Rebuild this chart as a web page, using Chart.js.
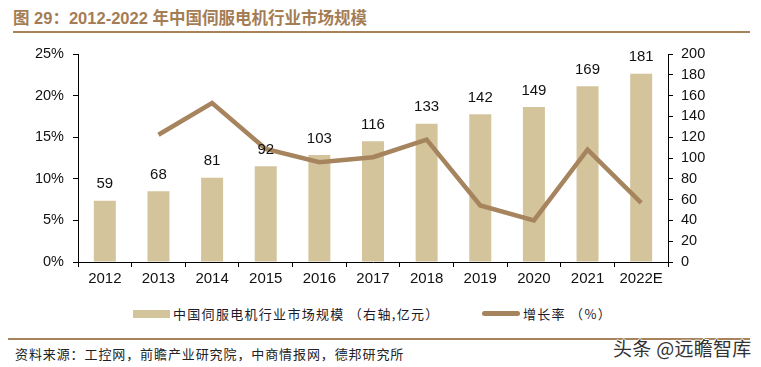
<!DOCTYPE html>
<html>
<head>
<meta charset="utf-8">
<script src="https://cdn.jsdelivr.net/npm/chart.js@4.4.1/dist/chart.umd.min.js"></script>
<style>
  html, body { margin: 0; padding: 0; background: #fff; }
  #wrap { position: relative; width: 761px; height: 367px; overflow: hidden; }
  #title { position: absolute; left: 13px; top: 5px; font: bold 16.5px "Liberation Sans", "Noto Sans CJK SC", sans-serif; color: #a47d55; white-space: nowrap; }
  .rule { position: absolute; height: 2px; background: #a8825a; }
  #c { position: absolute; left: 0; top: 40px; }
  .lg { position: absolute; font: 13px "Noto Sans CJK SC", sans-serif; color: #1a1a2a; letter-spacing: 1.3px; white-space: nowrap; line-height: 16px; }
  .sw { position: absolute; }
  #src { position: absolute; left: 15px; top: 344px; font: 13px "Noto Sans CJK SC", sans-serif; color: #222; letter-spacing: 0.9px; white-space: nowrap; }
  #wm { position: absolute; left: 613px; top: 334px; font: 19px "Noto Sans CJK SC", sans-serif; color: #333; white-space: nowrap; letter-spacing: 0.3px;
        text-shadow: 1px 0 #fff, -1px 0 #fff, 0 1px #fff, 0 -1px #fff; }
</style>
</head>
<body>
<div id="wrap">
  <div id="title">图 29：2012-2022 年中国伺服电机行业市场规模</div>
  <div class="rule" style="left:13px; top:31px; width:737px;"></div>
  <canvas id="c" width="761" height="250" style="width:761px;height:250px;"></canvas>
  <div class="sw" style="left:133px; top:310px; width:37px; height:8px; background:#d4c49c;"></div>
  <div class="lg" style="left:173px; top:306px;">中国伺服电机行业市场规模 （右轴,亿元）</div>
  <div class="sw" style="left:482px; top:311px; width:38px; height:5px; border-radius:3px; background:#a6845e;"></div>
  <div class="lg" style="left:523px; top:306px;">增长率 （%）</div>
  <div class="rule" style="left:8px; top:338px; width:742px;"></div>
  <div id="src">资料来源：工控网，前瞻产业研究院，中商情报网，德邦研究所</div>
  <div id="wm">头条 @远瞻智库</div>
</div>
<script>
const years = ["2012", "2013", "2014", "2015", "2016", "2017", "2018", "2019", "2020", "2021", "2022E"];
const marketSize = [59, 68, 81, 92, 103, 116, 133, 142, 149, 169, 181]; // 亿元, right axis
const growthRate = [null, 15.3, 19.1, 13.6, 12.0, 12.6, 14.7, 6.8, 5.0, 13.5, 7.1]; // %, left axis

const BAR = "#d4c49c";
const LINE = "#a6845e";
const TXT = "#111";

// numbers above the bars
const barLabels = {
  id: "barLabels",
  afterDatasetsDraw(chart) {
    const { ctx } = chart;
    const meta = chart.getDatasetMeta(1);
    ctx.save();
    ctx.font = "15px 'Liberation Sans', Arial, sans-serif";
    ctx.fillStyle = TXT;
    ctx.textAlign = "center";
    ctx.textBaseline = "bottom";
    meta.data.forEach((bar, i) => {
      ctx.fillText(String(marketSize[i]), bar.x, bar.y - 9);
    });
    ctx.restore();
  },
};

// fixed axis sizes, no label-driven padding -> plot area 78..668 x 54..262
const fixY = w => s => { s.width = w; s.paddingTop = 0; s.paddingBottom = 0; };

new Chart(document.getElementById("c"), {
  data: {
    labels: years,
    datasets: [
      {
        type: "line",
        label: "增长率 （%）",
        data: growthRate,
        borderColor: LINE,
        borderWidth: 4.5,
        pointRadius: 0,
        tension: 0,
        yAxisID: "y",
        order: 0,
      },
      {
        type: "bar",
        label: "中国伺服电机行业市场规模 （右轴,亿元）",
        data: marketSize,
        backgroundColor: BAR,
        borderWidth: 0,
        categoryPercentage: 1,
        barPercentage: 0.41,
        yAxisID: "y2",
        order: 1,
      },
    ],
  },
  options: {
    responsive: false,
    animation: false,
    layout: { padding: { top: 14, left: 0, right: 0, bottom: 0 } },
    plugins: { legend: { display: false }, tooltip: { enabled: false } },
    scales: {
      x: {
        offset: true,
        grid: { offset: true, drawOnChartArea: false, drawTicks: true, tickLength: 5, color: "#000" },
        border: { color: "#000", width: 1 },
        ticks: { color: TXT, font: { size: 15, family: "'Liberation Sans', Arial, sans-serif" }, padding: 3, maxRotation: 0 },
        afterFit: s => { s.height = 28; s.paddingLeft = 0; s.paddingRight = 0; },
      },
      y: {
        position: "left",
        min: 0, max: 25,
        ticks: { stepSize: 5, callback: v => v + "%", color: TXT, padding: 9,
                 font: { size: 14.5, family: "'Liberation Sans', Arial, sans-serif" } },
        grid: { drawOnChartArea: false, tickLength: 5, color: "#000" },
        border: { color: "#000", width: 1 },
        afterFit: fixY(78),
      },
      y2: {
        position: "right",
        min: 0, max: 200,
        ticks: { stepSize: 20, color: TXT, padding: 8,
                 font: { size: 14.5, family: "'Liberation Sans', Arial, sans-serif" } },
        grid: { drawOnChartArea: false, tickLength: 5, color: "#000" },
        border: { color: "#000", width: 1 },
        afterFit: fixY(93),
      },
    },
  },
  plugins: [barLabels],
});
</script>
</body>
</html>
